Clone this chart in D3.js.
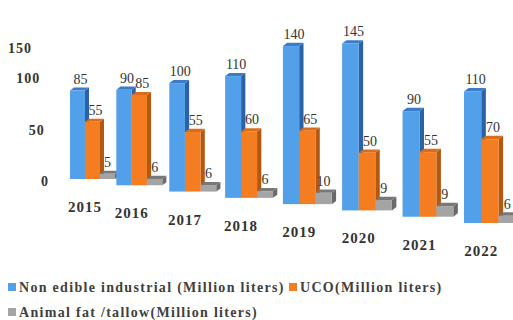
<!DOCTYPE html>
<html>
<head>
  <meta charset="utf-8">
  <title>Feedstock 3D bars</title>
  <style>
    body { margin: 0; background: #fff; }
    .tick-label { font-family: "Liberation Serif", serif; font-weight: bold; font-size: 14px; fill: #333; letter-spacing: 1px; }
    .val-label { font-family: "Liberation Serif", serif; font-size: 14px; fill: #333; }
    .year-label { font-family: "Liberation Serif", serif; font-weight: bold; font-size: 15px; fill: #333; letter-spacing: 1px; }
    .legend-text { font-family: "Liberation Serif", serif; font-weight: bold; font-size: 14px; fill: #404040; letter-spacing: 1.3px; }
  </style>
  <script src="https://d3js.org/d3.v7.min.js"></script>
</head>
<body>
  <script>
    // data
    var years = ['2015', '2016', '2017', '2018', '2019', '2020', '2021', '2022'];
    var nonEdible = [85, 90, 100, 110, 140, 145, 90, 110];
    var uco = [55, 85, 55, 60, 65, 50, 55, 70];
    var animalFat = [5, 6, 6, 6, 10, 9, 9, 6];
    var seriesNames = ['Non edible industrial (Million liters)', 'UCO(Million liters)', 'Animal fat /tallow(Million liters)'];
    var yTicks = [0, 50, 100, 150];

    var width = 513, height = 320;
    var svg = d3.select('body').append('svg')
      .attr('width', width).attr('height', height);

    // colours: front, side, top
    var colors = [
      { front: '#52a0ea', side: '#2a62a3', top: '#3a7cc8' },
      { front: '#f57d21', side: '#b45710', top: '#dc6c18' },
      { front: '#a4a4a4', side: '#6a6a6a', top: '#787878' }
    ];

    // fake perspective: groups further right are closer, so bigger and lower
    var n = years.length;
    var xPos = d3.scalePow().exponent(1.1).domain([0, n - 1]).range([70, 464]);
    var baseY = d3.scaleLinear().domain([0, n - 1]).range([179, 223]);
    var persp = d3.scaleLinear().domain([0, n - 1]).range([1, 1.15]);
    var hScale = d3.scaleLinear().domain([0, 150]).range([0, 156]);

    // y tick labels sit on a slanted, squashed axis
    var tickY = d3.scaleLinear().domain([0, 50, 100, 150]).range([181, 130, 78, 48]);
    var tickX = d3.scaleLinear().domain([0, 150]).range([45, 20]);

    svg.append('g').selectAll('text')
      .data(yTicks).enter().append('text')
      .attr('class', 'tick-label')
      .attr('text-anchor', 'middle')
      .attr('x', d => tickX(d))
      .attr('y', d => tickY(d) + 5)
      .text(d => d);

    var table = years.map((y, i) => ({
      year: y, i: i, vals: [nonEdible[i], uco[i], animalFat[i]]
    }));

    var bars = svg.append('g');
    var labels = svg.append('g');

    table.forEach(function(g) {
      var p = persp(g.i);
      var w = 15 * p, dx = 4 * p, dy = 3 * p;
      var by = baseY(g.i);
      g.vals.forEach(function(v, s) {
        var x = xPos(g.i) + s * w;
        var h = hScale(v) * p;
        var top = by - h;
        var c = colors[s];
        var bar = bars.append('g');
        // side face
        bar.append('path')
          .attr('d', 'M' + (x + w) + ',' + top + 'L' + (x + w + dx) + ',' + (top - dy) +
            'L' + (x + w + dx) + ',' + (by - dy) + 'L' + (x + w) + ',' + by + 'Z')
          .attr('fill', c.side);
        // top face
        bar.append('path')
          .attr('d', 'M' + x + ',' + top + 'L' + (x + dx) + ',' + (top - dy) +
            'L' + (x + w + dx) + ',' + (top - dy) + 'L' + (x + w) + ',' + top + 'Z')
          .attr('fill', c.top);
        // front face
        bar.append('rect')
          .attr('x', x).attr('y', top)
          .attr('width', w).attr('height', h)
          .attr('fill', c.front);

        labels.append('text')
          .attr('class', 'val-label')
          .attr('text-anchor', 'middle')
          .attr('x', x + w / 2 + (s === 2 ? 0 : 3))
          .attr('y', top - 7)
          .text(v);
      });

      labels.append('text')
        .attr('class', 'year-label')
        .attr('text-anchor', 'middle')
        .attr('x', xPos(g.i) + w)
        .attr('y', by + 33)
        .text(g.year);
    });

    // legend
    var legendPos = [[8, 287], [289, 287], [8, 312]];
    var legend = svg.append('g');
    seriesNames.forEach(function(name, s) {
      var lp = legendPos[s];
      legend.append('rect')
        .attr('x', lp[0]).attr('y', lp[1] - 4)
        .attr('width', 8).attr('height', 8)
        .attr('fill', colors[s].front);
      legend.append('text')
        .attr('class', 'legend-text')
        .attr('x', lp[0] + 11).attr('y', lp[1] + 5)
        .text(name);
    });
  </script>
</body>
</html>
